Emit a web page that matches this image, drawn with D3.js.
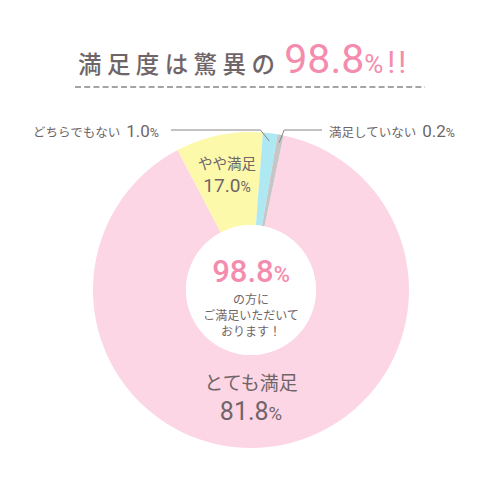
<!DOCTYPE html>
<html>
<head>
<meta charset="utf-8">
<script src="https://cdn.jsdelivr.net/npm/d3@7"></script>
<style>
  body { margin: 0; background: #fff; }
  svg text { font-family: "Noto Sans CJK JP", "Noto Sans", sans-serif; }
  svg .num { font-family: Roboto, "Noto Sans", sans-serif; }
</style>
</head>
<body>
<svg id="drawing_region"></svg>
<script>
// categories and the percentages printed on the chart
const categories = ['とても満足', 'やや満足', 'どちらでもない', '満足していない'];
const percents = [81.8, 17.0, 1.0, 0.2];
// share of the ring each slice actually takes in the picture (not to scale with the labels)
const drawnShare = [89.0, 8.9, 1.5, 0.6];
const colors = ['#fdd6e5', '#fdf9aa', '#aee9f3', '#c6c6c6'];

const titleText = '満足度は驚異の';
const titleValue = '98.8';
const centerLines = ['の方に', 'ご満足いただいて', 'おります！'];

const config = {
    width: 500,
    height: 500,
    cx: 251,
    cy: 290,
    outer: 158,
    inner: 65,
    start: 11.9   // degrees, where the first slice begins
};

const textColor = '#6f6568';
const accent = '#f58bad';
const lineColor = '#8a8486';
const fmt = d3.format('.1f');

const svg = d3.select('#drawing_region')
    .attr('width', config.width)
    .attr('height', config.height);

// title
const title = svg.append('text')
    .attr('x', 78)
    .attr('y', 73)
    .attr('fill', textColor);
title.append('tspan')
    .attr('font-size', 23.5)
    .attr('font-weight', 500)
    .attr('letter-spacing', 5.4)
    .text(titleText);
title.append('tspan')
    .attr('class', 'num')
    .attr('dx', 4)
    .attr('font-size', 41)
    .attr('fill', accent)
    .text(titleValue);
title.append('tspan')
    .attr('class', 'num')
    .attr('font-size', 26)
    .attr('fill', accent)
    .text('%');
title.append('tspan')
    .attr('class', 'num')
    .attr('dx', 4)
    .attr('font-size', 31)
    .attr('letter-spacing', 3)
    .attr('fill', accent)
    .text('!!');

svg.append('line')
    .attr('x1', 75).attr('x2', 425)
    .attr('y1', 87).attr('y2', 87)
    .attr('stroke', lineColor)
    .attr('stroke-width', 1.5)
    .attr('stroke-dasharray', '6,3.2');

// donut
const rad = d => d * Math.PI / 180;
const data = categories.map((c, i) => ({ label: c, pct: percents[i], share: drawnShare[i], color: colors[i] }));

const pie = d3.pie()
    .sort(null)
    .value(d => d.share)
    .startAngle(rad(config.start))
    .endAngle(rad(config.start + 360));

const arc = d3.arc()
    .innerRadius(config.inner)
    .outerRadius(config.outer);

const chart = svg.append('g')
    .attr('transform', `translate(${config.cx}, ${config.cy})`);

const arcs = pie(data);

chart.selectAll('path')
    .data(arcs)
    .enter()
    .append('path')
    .attr('d', arc)
    .attr('fill', d => d.data.color);

chart.append('circle')
    .attr('r', config.inner)
    .attr('fill', '#fff');

// leader lines for the thin slices
const pointAt = (angle, r) => [r * Math.sin(angle), -r * Math.cos(angle)];
const lineY = 130 - config.cy;

const blue = arcs[2];
const bp = pointAt((blue.startAngle + blue.endAngle) / 2, 150);
chart.append('polyline')
    .attr('points', [[-80, lineY], [bp[0] - 9, lineY], bp].map(p => p.join(',')).join(' '))
    .attr('fill', 'none')
    .attr('stroke', lineColor)
    .attr('stroke-width', 1);

const gray = arcs[3];
const gp = pointAt((gray.startAngle + gray.endAngle) / 2, 150);
chart.append('polyline')
    .attr('points', [[71, lineY], [gp[0] + 5, lineY], gp].map(p => p.join(',')).join(' '))
    .attr('fill', 'none')
    .attr('stroke', lineColor)
    .attr('stroke-width', 1);

// outside labels
const outLabel = (x, d) => {
    const t = svg.append('text')
        .attr('x', x)
        .attr('y', 137)
        .attr('fill', textColor);
    t.append('tspan')
        .attr('font-size', 12.5)
        .text(d.label);
    t.append('tspan')
        .attr('class', 'num')
        .attr('dx', 6)
        .attr('font-size', 17)
        .text(fmt(d.pct));
    t.append('tspan')
        .attr('class', 'num')
        .attr('font-size', 12.5)
        .text('%');
};
outLabel(33, data[2]);
outLabel(329, data[3]);

// inside labels
const inLabel = (x, y1, y2, d, s1, s2) => {
    svg.append('text')
        .attr('x', x).attr('y', y1)
        .attr('text-anchor', 'middle')
        .attr('fill', textColor)
        .attr('font-size', s1)
        .text(d.label);
    const t = svg.append('text')
        .attr('class', 'num')
        .attr('x', x).attr('y', y2)
        .attr('text-anchor', 'middle')
        .attr('fill', textColor);
    t.append('tspan')
        .attr('font-size', s2)
        .text(fmt(d.pct));
    t.append('tspan')
        .attr('font-size', s2 * 0.74)
        .text('%');
};
inLabel(227, 169, 192, data[1], 14.5, 19);
inLabel(251, 390, 419.5, data[0], 19, 25);

// centre text
const c = svg.append('text')
    .attr('class', 'num')
    .attr('x', config.cx)
    .attr('y', 282)
    .attr('text-anchor', 'middle')
    .attr('fill', accent)
    .attr('font-weight', 500);
c.append('tspan').attr('font-size', 31).text(titleValue);
c.append('tspan').attr('font-size', 22).text('%');

centerLines.forEach((s, i) => {
    svg.append('text')
        .attr('x', config.cx)
        .attr('y', 303.5 + i * 16)
        .attr('text-anchor', 'middle')
        .attr('fill', textColor)
        .attr('font-size', 12)
        .text(s);
});
</script>
</body>
</html>
